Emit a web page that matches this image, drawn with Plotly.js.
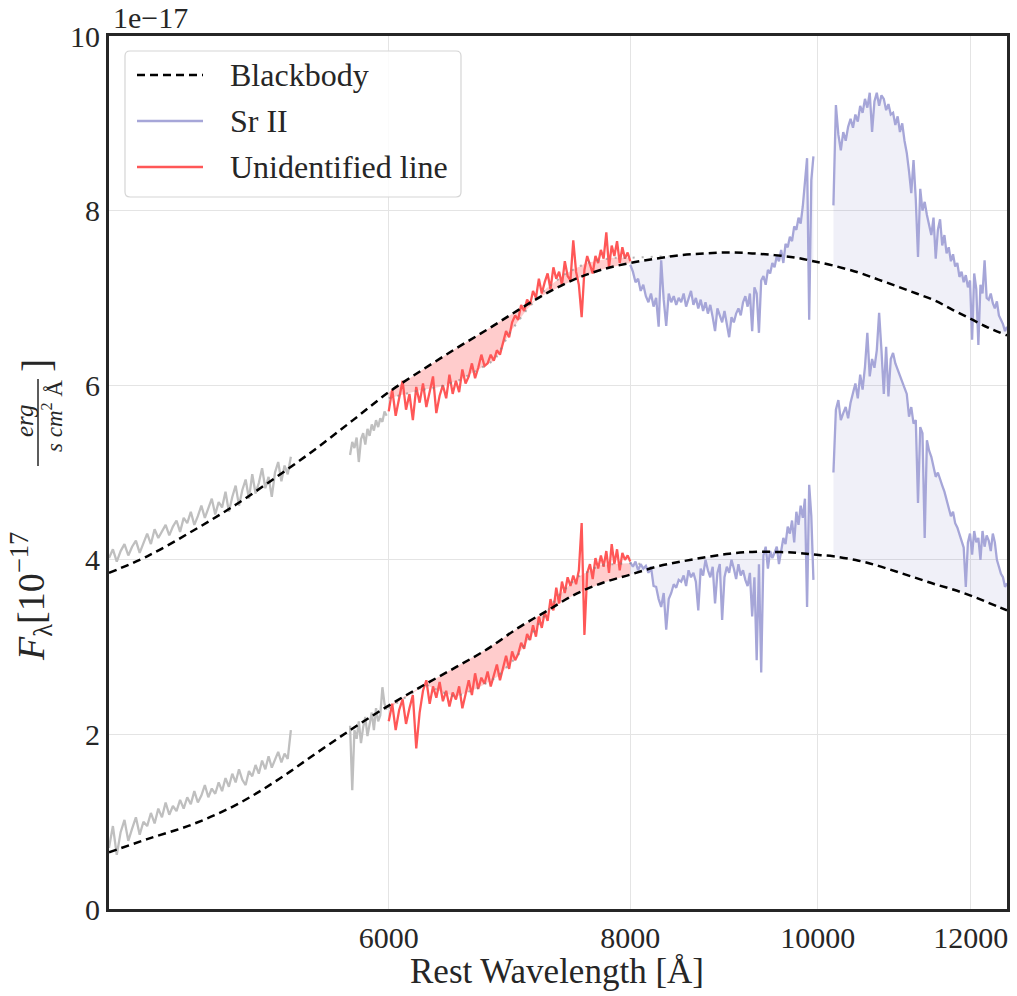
<!DOCTYPE html>
<html><head><meta charset="utf-8">
<script src="https://cdn.plot.ly/plotly-3.0.1.min.js"></script>
<style>html,body{margin:0;padding:0;background:#fff}#chart{width:1017px;height:996px}</style>
</head><body><div id="chart"></div><script>
// ---------------- data ----------------
// Blackbody model curves (flux in 1e-17 units)
const bbWave = [4300,4500,4750,5000,5250,5500,5750,6000,6250,6500,6750,7000,7250,7500,7750,8000,8250,8500,8750,9000,9250,9500,9750,9950,10190,10500,10750,11000,11250,11500,11750,12000,12250,12530];
const bbTop  = [3.85,4.04,4.33,4.63,4.95,5.27,5.60,5.92,6.18,6.42,6.64,6.86,7.06,7.22,7.33,7.40,7.45,7.49,7.51,7.52,7.51,7.49,7.46,7.42,7.37,7.29,7.21,7.13,7.05,6.97,6.86,6.76,6.66,6.57];
const bbBot  = [0.65,0.80,0.97,1.19,1.47,1.78,2.07,2.33,2.56,2.77,2.98,3.22,3.42,3.61,3.74,3.83,3.92,3.98,4.03,4.07,4.09,4.09,4.08,4.06,4.04,3.99,3.93,3.86,3.79,3.72,3.66,3.59,3.51,3.42];

// Upper spectrum
const grayTop1Start = 4300, grayTop1Step = 20;
const grayTop1 = [4.02,4.12,3.98,4.10,4.18,4.05,4.15,4.22,4.08,4.20,
  4.30,4.18,4.35,4.25,4.32,4.40,4.28,4.38,4.45,4.32,
  4.48,4.42,4.55,4.40,4.50,4.62,4.48,4.58,4.70,4.52,
  4.66,4.60,4.78,4.55,4.72,4.85,4.62,4.80,4.92,4.70,
  4.98,4.76,4.88,5.05,4.82,4.95,4.72,5.00,5.12,4.90,
  5.08,4.98,5.18];
const grayTop2Start = 5730, grayTop2Step = 15;
const grayTop2 = [5.20,5.35,5.28,5.40,5.12,5.38,5.45,5.32,5.50,5.42,5.55,5.48,5.60,5.52,5.62,5.58,5.70,5.65];
const redTopStart = 6000, redTopStep = 25;
const redTop = [5.70,5.95,5.65,5.85,6.05,5.72,5.90,5.60,5.98,5.80,
  6.02,5.75,5.92,6.10,5.68,5.88,6.00,5.85,6.12,5.90,
  6.05,5.92,6.18,6.02,6.10,6.25,6.08,6.20,6.35,6.22,
  6.25,6.35,6.28,6.40,6.35,6.50,6.62,6.55,6.72,6.80,
  6.75,6.92,6.85,6.98,6.92,7.08,7.00,7.22,7.05,7.18,
  7.28,7.10,7.35,7.22,7.30,7.15,7.42,7.25,7.20,7.66,
  7.30,7.15,6.78,7.32,7.48,7.38,7.28,7.48,7.40,7.55,
  7.45,7.75,7.35,7.60,7.48,7.65,7.40,7.58,7.45,7.52,
  7.42];
const purpleTop1Start = 8000, purpleTop1Step = 25;
const purpleTop1 = [7.38,7.30,7.18,7.22,7.08,7.15,7.02,6.95,7.05,6.90,
  7.00,6.67,7.43,6.98,6.68,7.05,6.95,7.02,6.92,7.00,
  6.95,7.05,6.90,6.98,7.08,6.92,7.00,6.88,6.98,6.85,
  6.95,6.82,6.92,6.78,6.62,6.88,6.80,6.72,6.85,6.70,
  6.55,6.78,6.72,6.82,6.88,6.80,6.95,7.02,6.90,7.05,
  6.62,7.12,7.05,6.60,7.20,7.25,7.15,7.32,7.28,7.40,
  7.35,7.48,7.42,7.55,7.40,7.62,7.58,7.70,7.65,7.82,
  7.78,7.92,7.85,8.05,8.30,8.60,6.75,8.35,8.62];
const purpleTop2Start = 10190, purpleTop2Step = 30;
const purpleTop2 = [8.06,9.21,8.87,8.69,8.90,8.80,8.96,9.05,8.95,9.10,
  9.02,9.20,9.12,9.28,9.18,9.35,8.90,9.25,9.35,9.20,
  9.32,9.28,9.15,9.22,9.10,9.12,8.98,9.08,8.90,9.00,
  8.80,8.66,8.45,8.20,8.58,8.13,7.47,8.25,8.00,8.10,
  7.95,7.85,7.72,7.92,7.45,7.78,7.90,7.60,7.72,7.51,
  7.58,7.42,7.50,7.36,7.40,7.24,7.30,7.18,7.26,7.12,
  7.20,6.52,7.28,7.10,6.46,7.15,7.05,7.43,7.00,6.98,
  7.05,6.94,6.88,6.96,6.80,6.75,6.70,6.62,6.67];
const smTopWave = [6000,6220,6375,6530,6665,6810,6930,7070,7240,7410,7590,7830,8000,8260,8420];
const smTop     = [5.85,5.94,5.98,6.06,6.17,6.29,6.60,6.86,7.11,7.28,7.40,7.46,7.46,7.47,7.48];

// Lower spectrum
const grayBot1Start = 4300, grayBot1Step = 20;
const grayBot1 = [0.70,0.95,0.62,0.88,1.02,0.78,0.92,1.05,0.85,1.00,
  0.95,1.10,0.98,1.15,1.05,1.22,1.08,1.18,1.12,1.25,
  1.15,1.28,1.20,1.35,1.22,1.30,1.42,1.28,1.38,1.32,
  1.45,1.35,1.50,1.40,1.55,1.45,1.60,1.48,1.42,1.58,
  1.52,1.65,1.55,1.70,1.60,1.75,1.62,1.72,1.80,1.68,
  1.78,1.72,2.05];
const grayBot2Start = 5730, grayBot2Step = 15;
const grayBot2 = [2.10,1.36,2.05,1.95,2.15,1.90,2.08,2.20,1.98,2.12,2.25,2.05,2.30,2.15,2.22,2.54,2.35,2.28];
const redBotStart = 6000, redBotStep = 25;
const redBot = [2.15,2.35,2.05,2.28,2.40,2.12,2.30,2.45,1.84,2.25,
  2.50,2.62,2.35,2.55,2.42,2.60,2.38,2.50,2.32,2.48,
  2.40,2.55,2.30,2.48,2.62,2.45,2.70,2.52,2.65,2.58,
  2.72,2.55,2.68,2.80,2.62,2.78,2.90,2.75,2.95,2.85,
  2.92,3.05,2.98,3.15,3.08,3.25,3.12,3.35,3.22,3.40,
  3.30,3.55,3.42,3.68,3.50,3.75,3.62,3.80,3.70,3.82,
  3.72,3.88,4.42,3.14,3.85,3.95,3.78,4.02,3.90,4.05,
  3.92,4.10,3.85,4.18,3.95,4.12,3.88,4.08,4.00,4.05,
  3.98];
const purpleBot1Start = 8000, purpleBot1Step = 25;
const purpleBot1 = [3.97,3.92,3.98,3.88,3.95,3.90,3.93,3.85,3.92,3.70,
  3.69,3.55,3.46,3.62,3.20,3.55,3.62,3.72,3.68,3.77,
  3.75,3.82,3.70,3.88,3.80,3.85,3.75,3.42,3.90,3.82,
  4.00,3.88,3.80,3.92,3.50,3.85,3.95,3.31,3.80,3.92,
  3.85,4.00,3.90,3.78,3.95,3.82,3.88,3.77,3.70,3.85,
  3.35,3.80,2.85,3.95,2.71,4.05,4.15,3.90,4.10,4.02,
  4.08,4.15,3.95,4.11,4.25,4.18,4.38,4.30,4.45,4.20,
  4.55,4.40,4.62,4.48,4.70,3.46,4.86,4.50,3.77];
const purpleBot2Start = 10190, purpleBot2Step = 30;
const purpleBot2 = [5.00,5.72,5.83,5.60,5.68,5.75,5.62,5.80,5.91,6.02,
  5.85,6.12,5.95,6.21,6.60,6.10,6.30,6.20,6.40,6.83,
  6.40,5.90,6.44,5.87,6.30,6.37,6.25,6.18,6.10,6.02,
  5.95,5.90,5.64,5.75,5.56,5.60,4.65,5.52,5.45,4.25,
  5.37,5.25,5.18,5.05,4.95,5.00,4.91,4.85,4.78,4.68,
  4.60,4.50,4.55,4.42,4.37,4.30,4.22,4.14,3.69,4.20,
  4.30,4.06,4.33,4.20,4.25,4.00,4.33,4.15,4.28,4.22,
  4.10,4.30,4.20,4.00,3.92,3.84,3.80,3.69,3.73];
const smBotWave = [6000,6150,6270,6400,6500,6670,6830,6990,7160,7330,7510,7720,7970,8000,8150];
const smBot     = [2.30,2.45,2.57,2.48,2.43,2.53,2.66,2.89,3.23,3.57,3.80,3.94,3.96,3.96,3.95];

const xTickVals = [6000,8000,10000,12000];
const xTickText = ['6000','8000','10000','12000'];
const yTickVals = [0,2,4,6,8,10];
const legendLabels = ['Blackbody','Sr II','Unidentified line'];

// ---------------- drawing ----------------
function grid(start, step, n){ const a=[]; for(let i=0;i<n;i++) a.push(start+step*i); return a; }
const L=109, R=1007, T=36, B=909;
const px = x => (x-L)/(R-L);
const py = y => (B-y)/(B-T);
const FONT = 'Liberation Serif, Times New Roman, serif';
const TXT = '#262626';
const GRAY = '#bfbfbf', RED = '#ff5757', PURPLE = '#a6a6d8';
const PFILL = 'rgba(110,110,190,0.10)', RFILL = 'rgba(255,0,0,0.2)';
const LW = 2.3;

function polyFill(wx, wy, bx, by, color){
  const lo = wx[0], hi = wx[wx.length-1];
  const x=[...wx], y=[...wy];
  for(let i=bx.length-1;i>=0;i--){ if(bx[i]>=lo-1e-6 && bx[i]<=hi+1e-6){ x.push(bx[i]); y.push(by[i]); } }
  return {x:x, y:y, type:'scatter', mode:'lines', fill:'toself', fillcolor:color, line:{width:0}, hoverinfo:'skip', showlegend:false};
}
function line(x, y, color, width, dash){
  return {x:x, y:y, type:'scatter', mode:'lines', line:{color:color, width:width, dash:dash||'solid'}, hoverinfo:'skip', showlegend:false};
}

const wGT1 = grid(grayTop1Start, grayTop1Step, grayTop1.length);
const wGT2 = grid(grayTop2Start, grayTop2Step, grayTop2.length);
const wRT  = grid(redTopStart, redTopStep, redTop.length);
const wPT1 = grid(purpleTop1Start, purpleTop1Step, purpleTop1.length);
const wPT2 = grid(purpleTop2Start, purpleTop2Step, purpleTop2.length);
const wGB1 = grid(grayBot1Start, grayBot1Step, grayBot1.length);
const wGB2 = grid(grayBot2Start, grayBot2Step, grayBot2.length);
const wRB  = grid(redBotStart, redBotStep, redBot.length);
const wPB1 = grid(purpleBot1Start, purpleBot1Step, purpleBot1.length);
const wPB2 = grid(purpleBot2Start, purpleBot2Step, purpleBot2.length);

const smTopIn = smTopWave.map((w,i)=>[w,smTop[i]]).filter(p=>p[0]<=8000);
const smBotIn = smBotWave.map((w,i)=>[w,smBot[i]]).filter(p=>p[0]<=8000);

const traces = [
  polyFill(wPT1, purpleTop1, bbWave, bbTop, PFILL),
  polyFill(wPT2, purpleTop2, bbWave, bbTop, PFILL),
  polyFill(wPB1, purpleBot1, bbWave, bbBot, PFILL),
  polyFill(wPB2, purpleBot2, bbWave, bbBot, PFILL),
  polyFill(smTopIn.map(p=>p[0]), smTopIn.map(p=>p[1]), bbWave, bbTop, RFILL),
  polyFill(smBotIn.map(p=>p[0]), smBotIn.map(p=>p[1]), bbWave, bbBot, RFILL),
  line(wGT1, grayTop1, GRAY, LW), line(wGT2, grayTop2, GRAY, LW),
  line(wGB1, grayBot1, GRAY, LW), line(wGB2, grayBot2, GRAY, LW),
  line(wRT, redTop, RED, LW), line(wRB, redBot, RED, LW),
  line(wPT1, purpleTop1, PURPLE, LW), line(wPT2, purpleTop2, PURPLE, LW),
  line(wPB1, purpleBot1, PURPLE, LW), line(wPB2, purpleBot2, PURPLE, LW),
  line(smTopWave, smTop, 'rgba(120,120,120,0.55)', 2, '2px,7px'),
  line(smBotWave, smBot, 'rgba(120,120,120,0.55)', 2, '2px,7px'),
];
const bt = line(bbWave, bbTop, '#000', 2.5, '8px,5px'); bt.line.shape='spline';
const bb = line(bbWave, bbBot, '#000', 2.5, '8px,5px'); bb.line.shape='spline';
traces.push(bt, bb);

// manual legend (matplotlib style box)
const lx0=125, lx1=461, ly0=51, ly1=197, rr=5;
const rx = rr/(R-L), ry = rr/(B-T);
const X0=px(lx0), X1=px(lx1), Y0=py(ly1), Y1=py(ly0);
const boxPath = `M ${X0+rx},${Y0} L ${X1-rx},${Y0} Q ${X1},${Y0} ${X1},${Y0+ry} L ${X1},${Y1-ry} Q ${X1},${Y1} ${X1-rx},${Y1} L ${X0+rx},${Y1} Q ${X0},${Y1} ${X0},${Y1-ry} L ${X0},${Y0+ry} Q ${X0},${Y0} ${X0+rx},${Y0} Z`;
const legendRowsY = [75,121,167];
const legendStyles = [{color:'#000', dash:'8px,5px'}, {color:PURPLE, dash:'solid'}, {color:RED, dash:'solid'}];
const shapes = [
  {type:'path', xref:'paper', yref:'paper', path:boxPath, fillcolor:'rgba(255,255,255,0.85)', line:{color:'#d5d5d5', width:1.2}, layer:'above'},
];
const annotations = [];
legendRowsY.forEach((yy,i)=>{
  shapes.push({type:'line', xref:'paper', yref:'paper', x0:px(137), x1:px(203), y0:py(yy), y1:py(yy),
    line:{color:legendStyles[i].color, width:2.5, dash:legendStyles[i].dash}, layer:'above'});
  annotations.push({xref:'paper', yref:'paper', x:px(228), y:py(yy), xanchor:'left', yanchor:'middle',
    text:legendLabels[i], showarrow:false, font:{family:FONT, size:32, color:TXT}});
});
// offset text
annotations.push({xref:'paper', yref:'paper', x:px(111), y:py(17), xanchor:'left', yanchor:'middle',
  text:'1e\u221217', showarrow:false, font:{family:FONT, size:30, color:TXT}});
// x title
annotations.push({xref:'paper', yref:'paper', x:px(557), y:py(971), xanchor:'center', yanchor:'middle',
  text:'Rest Wavelength [Å]', showarrow:false, font:{family:FONT, size:35, color:TXT}});
// y title (with fraction)
annotations.push({xref:'paper', yref:'paper', x:px(31), y:py(597), xanchor:'center', yanchor:'middle', textangle:-90,
  text:'<i>F</i><sub>λ</sub>[10<sup>\u221217</sup>', showarrow:false, font:{family:FONT, size:38, color:TXT}});
annotations.push({xref:'paper', yref:'paper', x:px(24), y:py(421), xanchor:'center', yanchor:'middle', textangle:-90,
  text:'<i>erg</i>', showarrow:false, font:{family:FONT, size:25, color:TXT}});
annotations.push({xref:'paper', yref:'paper', x:px(52), y:py(416), xanchor:'center', yanchor:'middle', textangle:-90,
  text:'<i>s cm</i><sup>2</sup> Å', showarrow:false, font:{family:FONT, size:23, color:TXT}});
annotations.push({xref:'paper', yref:'paper', x:px(36), y:py(366), xanchor:'center', yanchor:'middle', textangle:-90,
  text:']', showarrow:false, font:{family:FONT, size:40, color:TXT}});
shapes.push({type:'line', xref:'paper', yref:'paper', x0:px(38), x1:px(38), y0:py(379), y1:py(466), line:{color:TXT, width:1.5}});

const layout = {
  width:1017, height:996,
  margin:{l:L, r:1017-R, t:T, b:996-B, pad:0},
  paper_bgcolor:'#fff', plot_bgcolor:'#fff',
  showlegend:false,
  font:{family:FONT, color:TXT},
  xaxis:{type:'log', range:[Math.log10(4300), Math.log10(12530)], tickvals:xTickVals, ticktext:xTickText,
    tickfont:{family:FONT, size:30, color:TXT}, ticks:'', showgrid:true, gridcolor:'#e4e4e4', gridwidth:1,
    showline:true, mirror:true, linecolor:TXT, linewidth:3, zeroline:false},
  yaxis:{range:[0,10], tickvals:yTickVals, ticktext:yTickVals.map(String),
    tickfont:{family:FONT, size:30, color:TXT}, ticks:'', showgrid:true, gridcolor:'#e4e4e4', gridwidth:1,
    showline:true, mirror:true, linecolor:TXT, linewidth:3, zeroline:false},
  shapes:shapes, annotations:annotations
};
Plotly.newPlot('chart', traces, layout, {staticPlot:true, displayModeBar:false});
</script></body></html>
